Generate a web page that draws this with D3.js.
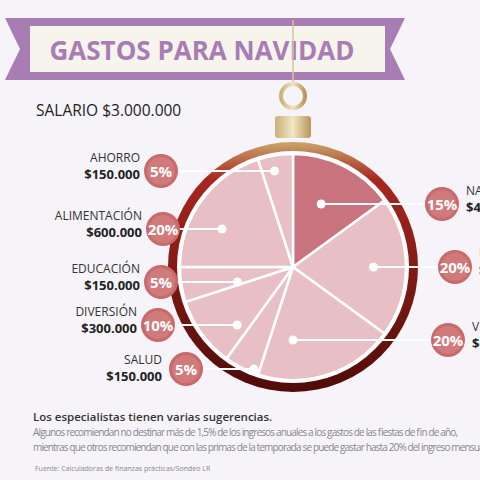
<!DOCTYPE html><html><head><meta charset="utf-8"><script src="https://cdn.jsdelivr.net/npm/d3@7"></script>
<style>body{margin:0;background:#f6f4f9}svg{display:block;font-family:'Open Sans',sans-serif}</style></head><body><svg id="c" width="480" height="480"></svg>
<script>
const categories=["NAVIDAD","FIESTAS","VIAJES","SALUD","DIVERSIÓN","EDUCACIÓN","ALIMENTACIÓN","AHORRO"];
const percents=[15,20,20,5,10,5,20,5];
const amounts=["$450.000","$600.000","$600.000","$150.000","$300.000","$150.000","$600.000","$150.000"];
const svg=d3.select("#c");
const W=480,cx=293,cy=267,R=115;
svg.append("rect").attr("width",W).attr("height",480).attr("fill","#f6f4f9");
const defs=svg.append("defs");
const g1=defs.append("linearGradient").attr("id","ring").attr("x1",0).attr("y1",0).attr("x2",0).attr("y2",1);
g1.append("stop").attr("offset","0").attr("stop-color","#c9a66a");
g1.append("stop").attr("offset","0.15").attr("stop-color","#a8261f");
g1.append("stop").attr("offset","1").attr("stop-color","#4f0b08");
const g2=defs.append("linearGradient").attr("id","cap").attr("x1",0).attr("x2",1);
g2.append("stop").attr("offset","0").attr("stop-color","#c9b07a");
g2.append("stop").attr("offset","0.5").attr("stop-color","#f2e6c4");
g2.append("stop").attr("offset","1").attr("stop-color","#b8955a");
svg.append("path").attr("d","M5,18 L405,18 L390,49 L405,80 L5,80 L20,49Z").attr("fill","#a87db4");
svg.append("rect").attr("x",30).attr("y",26).attr("width",355).attr("height",46).attr("fill","#f7f4ee");
svg.append("text").attr("x",202).attr("y",60).attr("text-anchor","middle").attr("font-size",26).attr("font-weight",700).attr("fill","#a87db4").attr("textLength",305).text("GASTOS PARA NAVIDAD");
svg.append("text").attr("x",36).attr("y",116).attr("font-size",15.5).attr("fill","#222").text("SALARIO $3.000.000");
svg.append("line").attr("x1",cx).attr("x2",cx).attr("y1",20).attr("y2",82).attr("stroke","#d8c49a").attr("stroke-width",1.5);
svg.append("circle").attr("cx",cx).attr("cy",96).attr("r",12).attr("fill","none").attr("stroke","url(#cap)").attr("stroke-width",4);
svg.append("rect").attr("x",cx-18).attr("y",116).attr("width",36).attr("height",22).attr("rx",3).attr("fill","url(#cap)");
svg.append("circle").attr("cx",cx).attr("cy",cy).attr("r",R+10).attr("fill","url(#ring)");
svg.append("circle").attr("cx",cx).attr("cy",cy).attr("r",R+1).attr("fill","#fff");
const pie=d3.pie().sort(null).value(d=>d)(percents);
const arc=d3.arc().innerRadius(0).outerRadius(R-2);
const pg=svg.append("g").attr("transform",`translate(${cx},${cy})`);
pg.selectAll("path").data(pie).join("path").attr("d",arc).attr("fill",(d,i)=>i==0?"#c8737e":"#e8bfc4").attr("stroke","#fff").attr("stroke-width",2.5);
const rf=[0.6,0.7,0.55,0.95,0.7,0.5,0.7,0.85];
const bxs=[442,455,448,186,158,161,163,161];
const bys=[204,267,340,369,325,282,229,171];
pie.forEach((d,i)=>{
  const a=(d.startAngle+d.endAngle)/2, r=rf[i]*R;
  const dy=bys[i];
  const dx=cx+Math.sqrt(Math.max(0,r*r-(dy-cy)*(dy-cy)))*Math.sign(Math.sin(a));
  const bx=bxs[i];
  svg.append("line").attr("x1",dx).attr("x2",bx).attr("y1",dy).attr("y2",dy).attr("stroke","#fff").attr("stroke-width",2);
  svg.append("circle").attr("cx",dx).attr("cy",dy).attr("r",4.5).attr("fill","#fff");
  svg.append("circle").attr("cx",bx).attr("cy",dy).attr("r",17).attr("fill","#c8696b");
  svg.append("circle").attr("cx",bx).attr("cy",dy).attr("r",14).attr("fill","#d07a7b");
  svg.append("text").attr("x",bx).attr("y",dy+6).attr("text-anchor","middle").attr("font-size",15).attr("font-weight",700).attr("fill","#fff").text(percents[i]+"%");
  const right=a<Math.PI;
  const tx=right?bx+24:(i==3?bx-24:bx-21), anchor=right?"start":"end";
  const ny=i==3?dy-5:dy-9;
  svg.append("text").attr("x",tx).attr("y",ny).attr("text-anchor",anchor).attr("font-size",12).attr("fill","#333").text(categories[i]);
  svg.append("text").attr("x",tx).attr("y",ny+17).attr("text-anchor",anchor).attr("font-size",13).attr("font-weight",700).attr("fill","#222").text(amounts[i]);
});
svg.append("text").attr("x",33).attr("y",421).attr("font-size",11.5).attr("font-weight",600).attr("fill","#333").text("Los especialistas tienen varias sugerencias.");
svg.append("text").attr("x",33).attr("y",436).attr("font-size",10).attr("fill","#888").attr("textLength",425).text("Algunos recomiendan no destinar más de 1,5% de los ingresos anuales a los gastos de las fiestas de fin de año,");
svg.append("text").attr("x",33).attr("y",451).attr("font-size",10).attr("fill","#888").attr("textLength",455).text("mientras que otros recomiendan que con las primas de la temporada se puede gastar hasta 20% del ingreso mensual.");
svg.append("text").attr("x",35).attr("y",471).attr("font-size",7).attr("fill","#888").text("Fuente: Calculadoras de finanzas prácticas/Sondeo LR");
</script></body></html>
